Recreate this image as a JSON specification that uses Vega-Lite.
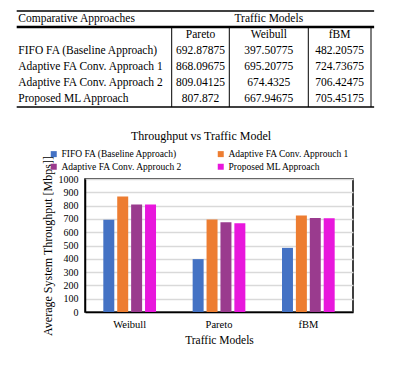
{
  "$schema": "https://vega.github.io/schema/vega-lite/v6.json",
  "autosize": "none",
  "width": 268,
  "height": 133,
  "padding": {"left": 85, "top": 179, "right": 42, "bottom": 54},
  "background": "white",
  "title": {"text": "Throughput vs Traffic Model", "font": "Liberation Serif", "fontSize": 12, "fontWeight": "normal", "color": "#000", "anchor": "middle", "frame": "group", "dx": -18, "offset": -133},
  "datasets": {
    "bars": [
      {"model": "Weibull", "approach": "FIFO FA  (Baseline Approach)", "value": 692.88},
      {"model": "Weibull", "approach": "Adaptive FA Conv. Approuch 1", "value": 868.10},
      {"model": "Weibull", "approach": "Adaptive FA Conv. Approuch 2", "value": 809.04},
      {"model": "Weibull", "approach": "Proposed ML Approach", "value": 807.87},
      {"model": "Pareto", "approach": "FIFO FA  (Baseline Approach)", "value": 397.51},
      {"model": "Pareto", "approach": "Adaptive FA Conv. Approuch 1", "value": 695.21},
      {"model": "Pareto", "approach": "Adaptive FA Conv. Approuch 2", "value": 674.43},
      {"model": "Pareto", "approach": "Proposed ML Approach", "value": 667.95},
      {"model": "fBM", "approach": "FIFO FA  (Baseline Approach)", "value": 482.21},
      {"model": "fBM", "approach": "Adaptive FA Conv. Approuch 1", "value": 724.74},
      {"model": "fBM", "approach": "Adaptive FA Conv. Approuch 2", "value": 706.42},
      {"model": "fBM", "approach": "Proposed ML Approach", "value": 705.45}
    ],
    "cells": [
      {"r": 0, "c": 0, "t": "Comparative Approaches"},
      {"r": 0, "c": 2.5, "t": "Traffic Models"},
      {"r": 1, "c": 1.5, "t": "Pareto"},
      {"r": 1, "c": 2.5, "t": "Weibull"},
      {"r": 1, "c": 3.5, "t": "fBM"},
      {"r": 2, "c": 0, "t": "FIFO FA (Baseline Approach)"},
      {"r": 2, "c": 1.5, "t": "692.87875"},
      {"r": 2, "c": 2.5, "t": "397.50775"},
      {"r": 2, "c": 3.5, "t": "482.20575"},
      {"r": 3, "c": 0, "t": "Adaptive FA Conv. Approach 1"},
      {"r": 3, "c": 1.5, "t": "868.09675"},
      {"r": 3, "c": 2.5, "t": "695.20775"},
      {"r": 3, "c": 3.5, "t": "724.73675"},
      {"r": 4, "c": 0, "t": "Adaptive FA Conv. Approach 2"},
      {"r": 4, "c": 1.5, "t": "809.04125"},
      {"r": 4, "c": 2.5, "t": "674.4325"},
      {"r": 4, "c": 3.5, "t": "706.42475"},
      {"r": 5, "c": 0, "t": "Proposed ML Approach"},
      {"r": 5, "c": 1.5, "t": "807.872"},
      {"r": 5, "c": 2.5, "t": "667.94675"},
      {"r": 5, "c": 3.5, "t": "705.45175"}
    ],
    "hthin": [{"r": -0.5}, {"r": 5.5}],
    "hthick": [{"r": 0.5}],
    "vlines": [{"c": 1}, {"c": 2}, {"c": 3}, {"c": 4}]
  },
  "layer": [
    {
      "data": {"name": "bars"},
      "mark": {"type": "bar"},
      "encoding": {
        "x": {"field": "model", "type": "nominal", "sort": ["Weibull", "Pareto", "fBM"],
          "scale": {"paddingInner": 0.41, "paddingOuter": 0.205},
          "axis": {"title": "Traffic Models", "labelAngle": 0, "ticks": false, "tickSize": 0, "labelPadding": 7,
            "labelFont": "Liberation Serif", "labelFontSize": 10.5, "labelColor": "#000",
            "titleFont": "Liberation Serif", "titleFontSize": 11.5, "titleFontWeight": "normal", "titleColor": "#000", "titlePadding": 5,
            "domainColor": "#000", "domainWidth": 1.5}},
        "xOffset": {"field": "approach", "type": "nominal",
          "sort": ["FIFO FA  (Baseline Approach)", "Adaptive FA Conv. Approuch 1", "Adaptive FA Conv. Approuch 2", "Proposed ML Approach"],
          "scale": {"paddingInner": 0.21, "paddingOuter": 0}},
        "y": {"field": "value", "type": "quantitative", "scale": {"domain": [0, 1000], "nice": false},
          "axis": {"title": "Average System Throughput  [Mbps]]", "values": [0, 100, 200, 300, 400, 500, 600, 700, 800, 900, 1000], "format": "d",
            "ticks": false, "tickSize": 0, "labelPadding": 7, "labelFont": "Liberation Serif", "labelFontSize": 10, "labelColor": "#000",
            "grid": true, "gridColor": "#d9d9d9", "gridWidth": 1.5,
            "titleFont": "Liberation Serif", "titleFontSize": 12, "titleFontWeight": "normal", "titleColor": "#000", "titlePadding": 4,
            "domainColor": "#000", "domainWidth": 1.5}},
        "color": {"field": "approach", "type": "nominal",
          "scale": {"domain": ["FIFO FA  (Baseline Approach)", "Adaptive FA Conv. Approuch 1", "Adaptive FA Conv. Approuch 2", "Proposed ML Approach"],
            "range": ["#4472C4", "#ED7D31", "#9A3B8E", "#E817DC"]},
          "legend": {"orient": "none", "legendX": -36, "legendY": -30, "direction": "horizontal", "columns": 2, "columnPadding": 33, "rowPadding": 2,
            "symbolType": "square", "symbolSize": 36, "symbolStrokeWidth": 0, "labelFont": "Liberation Serif", "labelFontSize": 9.5,
            "labelColor": "#000", "labelOffset": 3, "title": null, "padding": 0, "labelLimit": 300}}
      }
    },
    {
      "data": {"name": "cells"},
      "transform": [{"filter": "datum.c == 0"}],
      "mark": {"type": "text", "align": "left", "baseline": "middle", "dx": 1.6, "font": "Liberation Serif", "fontSize": 11.5, "color": "#000"},
      "encoding": {
        "x": {"field": "c", "type": "quantitative", "scale": {"domain": [0, 1, 2, 3, 4], "range": [-68.3, 86.7, 144.3, 223.3, 286], "nice": false, "zero": false}, "axis": null},
        "y": {"field": "r", "type": "quantitative", "scale": {"domain": [0, 5], "range": [-160, -80], "nice": false, "zero": false}, "axis": null},
        "text": {"field": "t"}
      }
    },
    {
      "data": {"name": "cells"},
      "transform": [{"filter": "datum.c > 0"}],
      "mark": {"type": "text", "align": "center", "baseline": "middle", "font": "Liberation Serif", "fontSize": 11.5, "color": "#000"},
      "encoding": {
        "x": {"field": "c", "type": "quantitative", "scale": {"domain": [0, 1, 2, 3, 4], "range": [-68.3, 86.7, 144.3, 223.3, 286], "nice": false, "zero": false}, "axis": null},
        "y": {"field": "r", "type": "quantitative", "scale": {"domain": [0, 5], "range": [-160, -80], "nice": false, "zero": false}, "axis": null},
        "text": {"field": "t"}
      }
    },
    {
      "data": {"name": "hthin"},
      "mark": {"type": "rule", "color": "#000", "strokeWidth": 1.3},
      "encoding": {
        "x": {"datum": 0, "type": "quantitative", "scale": {"domain": [0, 1, 2, 3, 4], "range": [-68.3, 86.7, 144.3, 223.3, 286], "nice": false, "zero": false}, "axis": null},
        "x2": {"datum": 4.05},
        "y": {"field": "r", "type": "quantitative", "scale": {"domain": [0, 5], "range": [-160, -80], "nice": false, "zero": false}, "axis": null}
      }
    },
    {
      "data": {"name": "hthick"},
      "mark": {"type": "rule", "color": "#000", "strokeWidth": 2.5},
      "encoding": {
        "x": {"datum": 0, "type": "quantitative", "scale": {"domain": [0, 1, 2, 3, 4], "range": [-68.3, 86.7, 144.3, 223.3, 286], "nice": false, "zero": false}, "axis": null},
        "x2": {"datum": 4.05},
        "y": {"field": "r", "type": "quantitative", "scale": {"domain": [0, 5], "range": [-160, -80], "nice": false, "zero": false}, "axis": null}
      }
    },
    {
      "data": {"name": "vlines"},
      "mark": {"type": "rule", "color": "#000", "strokeWidth": 1},
      "encoding": {
        "x": {"field": "c", "type": "quantitative", "scale": {"domain": [0, 1, 2, 3, 4], "range": [-68.3, 86.7, 144.3, 223.3, 286], "nice": false, "zero": false}, "axis": null},
        "y": {"datum": 0.5, "type": "quantitative", "scale": {"domain": [0, 5], "range": [-160, -80], "nice": false, "zero": false}, "axis": null},
        "y2": {"datum": 5.5}
      }
    }
  ],
  "resolve": {"scale": {"x": "independent", "y": "independent"}},
  "config": {
    "view": {"stroke": "#000", "strokeWidth": 1.5},
    "font": "Liberation Serif",
    "legend": {"labelFont": "Liberation Serif"},
    "axis": {"labelFont": "Liberation Serif", "titleFont": "Liberation Serif"}
  }
}
